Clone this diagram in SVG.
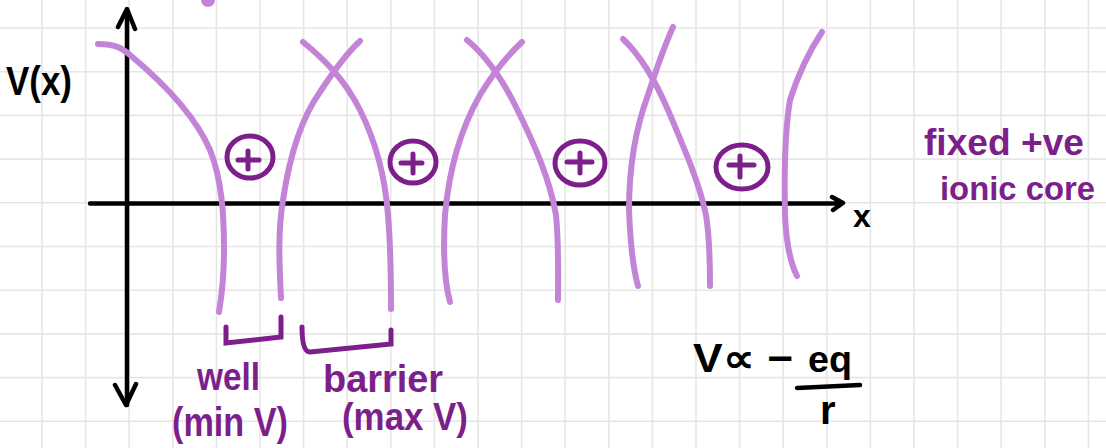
<svg xmlns="http://www.w3.org/2000/svg" width="1106" height="448" viewBox="0 0 1106 448">
<style>
.grid{stroke:#e6e6e6;stroke-width:1.6;fill:none}
.curve{stroke:#c384d7;stroke-width:6;fill:none;stroke-linecap:round;stroke-linejoin:round}
.ion{stroke:#7d1f8a;stroke-width:5;fill:none;stroke-linecap:round}
.axis{stroke:#000;stroke-width:4.5;fill:none;stroke-linecap:round;stroke-linejoin:round}
.lbl{font-family:"Liberation Sans",Arial,sans-serif;font-weight:bold}
.blk{fill:#000}
.pur{fill:#7d1f8a}
</style>
<rect width="1106" height="448" fill="#fff"/>
<g id="grid">
<path class="grid" d="M42,0V448M85.6,0V448M129.2,0V448M172.8,0V448M216.4,0V448M260,0V448M303.6,0V448M347.2,0V448M390.8,0V448M434.4,0V448M478,0V448M521.6,0V448M565.2,0V448M608.8,0V448M652.4,0V448M696,0V448M739.6,0V448M783.2,0V448M826.8,0V448M870.4,0V448M914,0V448M957.6,0V448M1001.2,0V448M1044.8,0V448M1088.4,0V448"/>
<path class="grid" d="M0,28H1106M0,71.7H1106M0,115.4H1106M0,159.1H1106M0,202.8H1106M0,246.5H1106M0,290.2H1106M0,333.9H1106M0,377.6H1106M0,421.3H1106"/>
</g>
<circle cx="208" cy="0" r="7" fill="#c384d7"/>
<g id="connectors">
<path id="axis-y" class="axis" d="M127,10V405"/>
<path class="axis" d="M118,27L127,9L135,29M115,385L126,405L136,384"/>
<path id="axis-x" class="axis" d="M90,203.5H842M832,197L843,203L833,210"/>
</g>
<g id="potential">
<path class="curve" d="M98,44C115,44 122,48 130,55C160,80 195,115 210,150C222,180 224,215 224,250C224,280 221,300 219,312"/>
<path class="curve" d="M281,298C279,260 278,230 283,200C289,160 300,120 320,92C333,72 345,55 360,41"/>
<path class="curve" d="M303,42C325,60 345,80 360,110C375,140 385,175 388,215C391,250 391,285 391,309"/>
<path class="curve" d="M450,302C444,280 443,250 445,215C449,170 460,130 480,95C495,70 508,55 522,42"/>
<path class="curve" d="M467,40C485,55 500,75 515,105C535,145 550,180 556,215C559,245 558,280 558,300"/>
<path class="curve" d="M638,286C632,265 630,235 629,210C629,170 635,130 648,95C656,70 665,45 673,27"/>
<path class="curve" d="M623,39C640,55 655,80 668,110C685,150 700,185 706,215C710,240 710,265 710,286"/>
<path class="curve" d="M797,276C789,260 786,240 785,215C784,170 785,130 790,100C798,75 810,50 822,32"/>
</g>
<g id="ion1"><ellipse class="ion" cx="250" cy="157" rx="23" ry="21"/><path class="ion" d="M238,160H259M248,151V169"/></g>
<g id="ion2"><ellipse class="ion" cx="413" cy="162" rx="23" ry="21"/><path class="ion" d="M401,163H422M413,154V173"/></g>
<g id="ion3"><ellipse class="ion" cx="580" cy="163" rx="25" ry="22"/><path class="ion" d="M567,162H592M580,153V173"/></g>
<g id="ion4"><ellipse class="ion" cx="742" cy="167" rx="26" ry="22"/><path class="ion" d="M729,165H754M740,156V177"/></g>
<g id="brackets">
<path class="ion" d="M226,327V343L281,337V317"/>
<path class="ion" d="M302,327Q302,352 310,352L391,344V330"/>
</g>
<g id="labels">
<text class="lbl blk" x="6" y="95" font-size="40" textLength="66" lengthAdjust="spacingAndGlyphs">V(x)</text>
<text class="lbl blk" x="853" y="227" font-size="32">x</text>
<text class="lbl pur" x="924" y="155" font-size="37" textLength="160" lengthAdjust="spacingAndGlyphs">fixed +ve</text>
<text class="lbl pur" x="940" y="200" font-size="33" textLength="155" lengthAdjust="spacingAndGlyphs">ionic core</text>
<text class="lbl pur" x="197" y="390" font-size="38" textLength="63" lengthAdjust="spacingAndGlyphs">well</text>
<text class="lbl pur" x="172" y="436" font-size="40" textLength="116" lengthAdjust="spacingAndGlyphs">(min V)</text>
<text class="lbl pur" x="323" y="392" font-size="38" textLength="120" lengthAdjust="spacingAndGlyphs">barrier</text>
<text class="lbl pur" x="342" y="430" font-size="38" textLength="126" lengthAdjust="spacingAndGlyphs">(max V)</text>
</g>
<g id="formula">
<text class="lbl blk" x="693" y="372" font-size="40" textLength="100" lengthAdjust="spacingAndGlyphs">V∝ −</text>
<text class="lbl blk" x="808" y="372" font-size="36" textLength="44" lengthAdjust="spacingAndGlyphs">eq</text>
<path class="axis" d="M797,388L860,385"/>
<text class="lbl blk" x="820" y="424" font-size="40">r</text>
</g>
</svg>
